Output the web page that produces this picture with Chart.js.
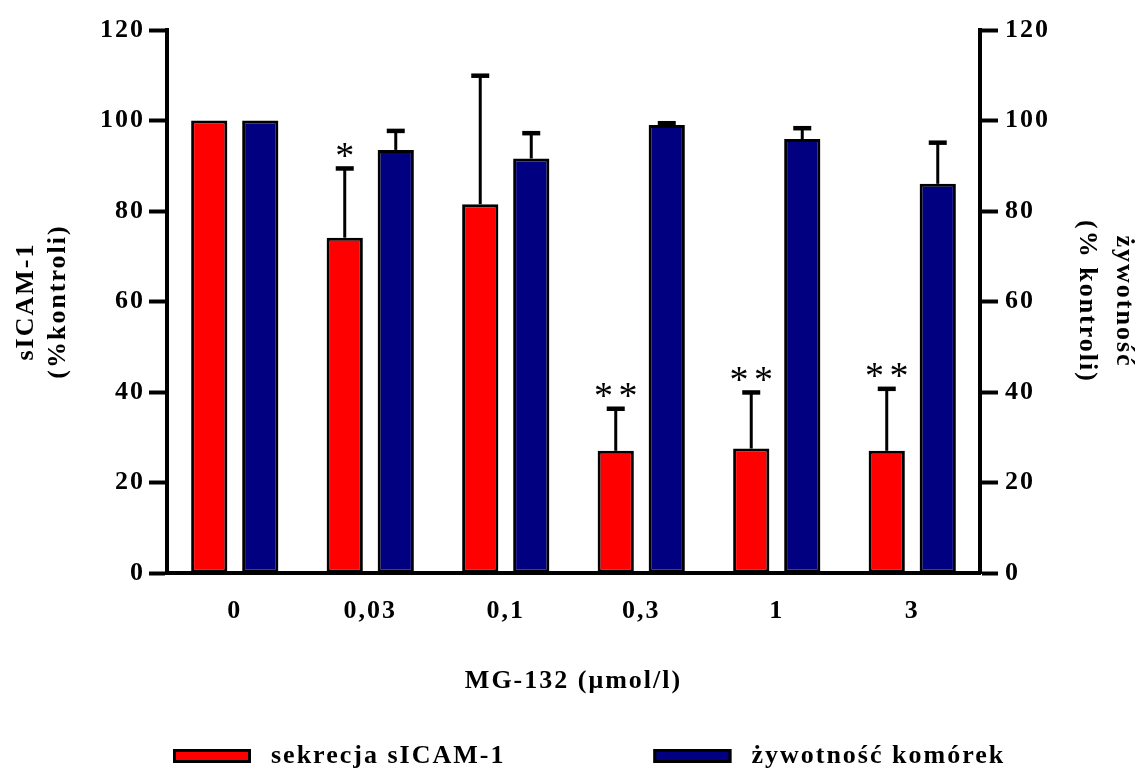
<!DOCTYPE html>
<html>
<head>
<meta charset="utf-8">
<script src="https://cdn.jsdelivr.net/npm/chart.js@4/dist/chart.umd.min.js"></script>
<style>
  html, body { margin: 0; padding: 0; background: #fff; }
  #wrap { width: 1139px; height: 774px; }
</style>
</head>
<body>
<div id="wrap"><canvas id="chart" width="1139" height="774"></canvas></div>
<script>
// data
const doses = ['0', '0,03', '0,1', '0,3', '1', '3'];
const sicamValues = [100, 74.1, 81.5, 27.0, 27.5, 27.0];
const sicamErrTop = [100, 89.4, 109.9, 36.3, 39.9, 40.7];
const viabilityValues = [100, 93.5, 91.6, 99.0, 95.9, 86.0];
const viabilityErrTop = [100, 97.7, 97.2, 99.4, 98.3, 95.1];
const sigMarks = ['', '*', '', '* *', '* *', '* *'];
const yTicks = [0, 20, 40, 60, 80, 100, 120];

const FONT = "'Liberation Serif', 'Times New Roman', serif";
const SPACING = '2px';

// error bars (upper only) + significance stars
const errorBarPlugin = {
  id: 'errorBars',
  afterDatasetsDraw(chart) {
    const ctx = chart.ctx;
    const errs = [sicamErrTop, viabilityErrTop];
    chart.data.datasets.forEach((ds, di) => {
      const meta = chart.getDatasetMeta(di);
      const scale = chart.scales[meta.yAxisID];
      meta.data.forEach((bar, i) => {
        const top = scale.getPixelForValue(errs[di][i]);
        const base = scale.getPixelForValue(ds.data[i]);
        ctx.save();
        ctx.strokeStyle = '#000';
        if (base - top > 1) {
          ctx.lineWidth = 3;
          ctx.beginPath();
          ctx.moveTo(bar.x, base);
          ctx.lineTo(bar.x, top);
          ctx.stroke();
        }
        if (errs[di][i] > ds.data[i]) {
          ctx.lineWidth = 4.5;
          ctx.beginPath();
          ctx.moveTo(bar.x - 9, top);
          ctx.lineTo(bar.x + 9, top);
          ctx.stroke();
        }
        if (di === 0 && sigMarks[i]) {
          ctx.font = '38px ' + FONT;
          ctx.letterSpacing = '-2px';
          ctx.fillStyle = '#000';
          ctx.textAlign = 'center';
          ctx.textBaseline = 'alphabetic';
          const m = ctx.measureText(sigMarks[i]);
          const cy = top - 18;
          ctx.fillText(sigMarks[i], bar.x - 1, cy + (m.actualBoundingBoxAscent - m.actualBoundingBoxDescent) / 2);
        }
        ctx.restore();
      });
    });
  }
};

// legend drawn at the bottom, spaced like the original
const legendPlugin = {
  id: 'bottomLegend',
  afterDraw(chart) {
    const ctx = chart.ctx;
    const y = 756;
    let x = chart.chartArea.left + 6;
    ctx.save();
    ctx.font = 'bold 26px ' + FONT;
    ctx.letterSpacing = '2px';
    ctx.textBaseline = 'middle';
    ctx.textAlign = 'left';
    chart.data.datasets.forEach((ds, i) => {
      ctx.fillStyle = ds.backgroundColor;
      ctx.fillRect(x, y - 7, 78, 14);
      ctx.lineWidth = 3;
      ctx.strokeStyle = '#000';
      ctx.strokeRect(x + 1.5, y - 5.5, 75, 11);
      ctx.fillStyle = '#000';
      ctx.fillText(ds.label, x + 98, y);
      x += 98 + ctx.measureText(ds.label).width + 148;
    });
    ctx.restore();
  }
};

const spacingPlugin = {
  id: 'letterSpacing',
  beforeLayout(chart) { chart.ctx.letterSpacing = SPACING; },
  beforeDraw(chart) { chart.ctx.letterSpacing = SPACING; }
};

const yAxisCommon = {
  min: 0,
  max: 120,
  afterBuildTicks(scale) { scale.ticks = yTicks.map(v => ({ value: v })); },
  grid: { drawOnChartArea: false, drawTicks: true, tickLength: 18, tickWidth: 4, tickColor: '#000' },
  border: { display: true, width: 4, color: '#000' },
  ticks: { color: '#000', font: { family: FONT, size: 26, weight: 'bold' }, padding: 4 }
};

new Chart(document.getElementById('chart').getContext('2d'), {
  type: 'bar',
  data: {
    labels: doses,
    datasets: [
      {
        label: 'sekrecja sICAM-1',
        data: sicamValues,
        backgroundColor: '#ff0000',
        borderColor: '#000',
        borderWidth: 3,
        borderSkipped: false,
        yAxisID: 'y'
      },
      {
        label: 'żywotność komórek',
        data: viabilityValues,
        backgroundColor: '#000080',
        borderColor: '#000',
        borderWidth: 3,
        borderSkipped: false,
        yAxisID: 'y2'
      }
    ]
  },
  options: {
    responsive: false,
    animation: false,
    categoryPercentage: 0.753,
    barPercentage: 0.71,
    layout: { padding: { top: 30, bottom: 60, left: 0, right: 0 } },
    plugins: {
      legend: { display: false },
      tooltip: { enabled: false }
    },
    scales: {
      x: {
        grid: { display: false, drawTicks: false },
        border: { display: true, width: 4, color: '#000' },
        ticks: { color: '#000', font: { family: FONT, size: 26, weight: 'bold' }, padding: 23 },
        title: {
          display: true,
          text: 'MG-132 (μmol/l)',
          color: '#000',
          font: { family: FONT, size: 26, weight: 'bold' },
          padding: { top: 0, bottom: 17 }
        },
        afterFit(scale) { scale.height = 141; }
      },
      y: Object.assign({}, yAxisCommon, {
        position: 'left',
        title: {
          display: true,
          text: ['sICAM-1', '(%kontroli)'],
          color: '#000',
          font: { family: FONT, size: 26, weight: 'bold', lineHeight: 1.2 },
          padding: { top: 11, bottom: 0 }
        },
        afterFit(scale) { scale.width = 167; }
      }),
      y2: Object.assign({}, yAxisCommon, {
        position: 'right',
        ticks: Object.assign({}, yAxisCommon.ticks, { padding: 7 }),
        title: {
          display: true,
          text: ['żywotność', '(% kontroli)'],
          color: '#000',
          font: { family: FONT, size: 26, weight: 'bold', lineHeight: 1.45 },
          padding: { top: -4, bottom: 0 }
        },
        afterFit(scale) { scale.width = 159; }
      })
    }
  },
  plugins: [spacingPlugin, errorBarPlugin, legendPlugin]
});
</script>
</body>
</html>
